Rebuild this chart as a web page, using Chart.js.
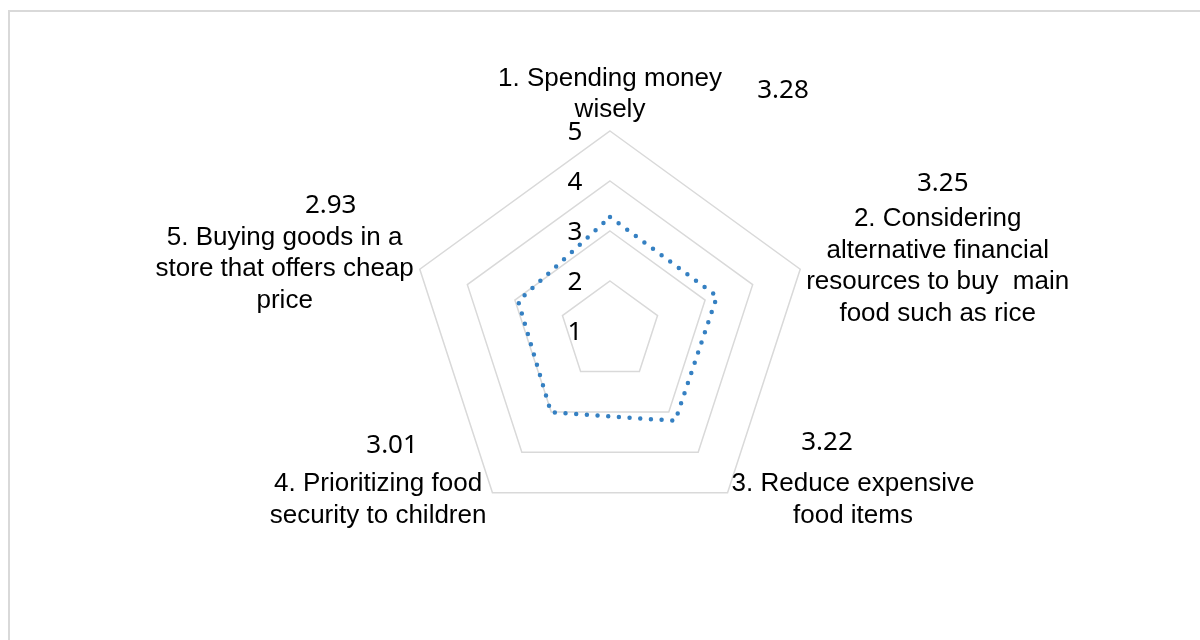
<!DOCTYPE html>
<html>
<head>
<meta charset="utf-8">
<script src="https://cdn.jsdelivr.net/npm/chart.js@4.4.1/dist/chart.umd.min.js"></script>
<style>
  body { margin: 0; background: #fff; }
  #frame { position: absolute; left: 8px; top: 10px; width: 1300px; height: 700px; border: 2px solid #d9d9d9; }
  #wrap { position: absolute; left: 0; top: 0; width: 1200px; height: 640px; }
</style>
</head>
<body>
<div id="frame"></div>
<div id="wrap"><canvas id="myRadar"></canvas></div>
<script>
// categories (split into lines the way they wrap in the picture)
var categories = [
  ["1. Spending money", "wisely"],
  ["2. Considering", "alternative financial", "resources to buy  main", "food such as rice"],
  ["3. Reduce expensive", "food items"],
  ["4. Prioritizing food", "security to children"],
  ["5. Buying goods in a", "store that offers cheap", "price"]
];
var scores = [3.28, 3.25, 3.22, 3.01, 2.93];
var tickValues = [1, 2, 3, 4, 5];

// hand placed text in the original: small shifts of label blocks and value labels
var labelNudge = [[0, -5], [6, -3], [4, 7], [-6, 7], [-6, 0]];
var valueNudge = [[173, 12], [5, -35], [-26, -41], [14, -38], [46, -32]];

var labelFont = "26px 'Liberation Sans', Arial, sans-serif";
var valueFont = "26px 'Noto Sans', sans-serif";
var tickFont = "26px 'Noto Sans', sans-serif";
var lineH = 31.5;

var radarText = {
  id: "radarText",
  afterDatasetsDraw: function(chart) {
    var ctx = chart.ctx;
    var scale = chart.scales.r;
    ctx.save();
    ctx.fillStyle = "#000";
    ctx.textBaseline = "middle";
    ctx.textAlign = "center";

    // tick labels, left of the vertical axis
    ctx.font = tickFont;
    tickValues.forEach(function(v) {
      var d = scale.getDistanceFromCenterForValue(v);
      ctx.fillText(String(v), scale.xCenter - 35, scale.yCenter - d + 2);
    });

    // category labels and values
    categories.forEach(function(lines, i) {
      var p = scale.getPointPosition(i, scale.drawingArea);
      ctx.font = labelFont;
      var w = 0;
      lines.forEach(function(t) { w = Math.max(w, ctx.measureText(t).width); });
      var h = lines.length * lineH;
      var dx = p.x - scale.xCenter;
      var cx, top;
      if (Math.abs(dx) < 1) {
        cx = p.x;
        top = p.y - h;
      } else if (dx > 0) {
        cx = p.x + w / 2;
        top = p.y - h / 2;
      } else {
        cx = p.x - w / 2;
        top = p.y - h / 2;
      }
      cx += labelNudge[i][0];
      top += labelNudge[i][1];
      lines.forEach(function(t, k) {
        ctx.fillText(t, cx, top + lineH * (k + 0.5));
      });
      ctx.font = valueFont;
      ctx.fillText(scores[i].toFixed(2), cx + valueNudge[i][0], top + lineH / 2 + valueNudge[i][1]);
    });
    ctx.restore();
  }
};

var chart = new Chart(document.getElementById("myRadar").getContext("2d"), {
  type: "radar",
  data: {
    labels: categories,
    datasets: [{
      label: "Score",
      data: scores,
      fill: false,
      borderColor: "#3580c2",
      borderWidth: 4.5,
      borderDash: [0, 10.7],
      borderCapStyle: "round",
      pointRadius: 0,
      tension: 0
    }]
  },
  options: {
    responsive: true,
    maintainAspectRatio: false,
    animation: false,
    layout: { padding: { left: 220, right: 200, top: 131, bottom: 109 } },
    plugins: { legend: { display: false }, tooltip: { enabled: false } },
    scales: {
      r: {
        min: 1,
        max: 5,
        ticks: { display: false, stepSize: 1 },
        pointLabels: { display: false },
        angleLines: { display: false },
        grid: { color: "#d9d9d9", lineWidth: 1.5 }
      }
    }
  },
  plugins: [radarText]
});
</script>
</body>
</html>
